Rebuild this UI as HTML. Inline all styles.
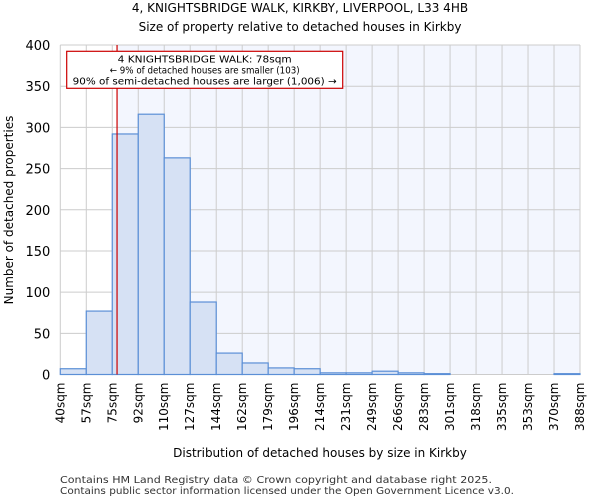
<!DOCTYPE html>
<html><head><meta charset="utf-8"><style>
body{margin:0;background:#fff;font-family:"DejaVu Sans","Liberation Sans",sans-serif}
</style></head><body>
<svg id="c" width="600" height="500" xmlns="http://www.w3.org/2000/svg" font-family="DejaVu Sans, Liberation Sans, sans-serif">
<text x="300" y="12" text-anchor="middle" font-size="12">4, KNIGHTSBRIDGE WALK, KIRKBY, LIVERPOOL, L33 4HB</text>
<text x="300" y="31" text-anchor="middle" font-size="12">Size of property relative to detached houses in Kirkby</text>
<g id="plot"></g>
<text x="320" y="457" text-anchor="middle" font-size="12">Distribution of detached houses by size in Kirkby</text>
<text transform="translate(13,210) rotate(-90)" text-anchor="middle" font-size="12">Number of detached properties</text>
<text x="60" y="483" font-size="10" fill="#333" textLength="432" lengthAdjust="spacingAndGlyphs">Contains HM Land Registry data © Crown copyright and database right 2025.</text>
<text x="60" y="494" font-size="10" fill="#333" textLength="454" lengthAdjust="spacingAndGlyphs">Contains public sector information licensed under the Open Government Licence v3.0.</text>
</svg>
<script>
const tickLabels=["40sqm","57sqm","75sqm","92sqm","110sqm","127sqm","144sqm","162sqm","179sqm","196sqm","214sqm","231sqm","249sqm","266sqm","283sqm","301sqm","318sqm","335sqm","353sqm","370sqm","388sqm"];
const counts=[7,77,292,316,263,88,26,14,8,7,2,2,4,2,1,0,0,0,0,1];
const yTicks=[0,50,100,150,200,250,300,350,400];
const propertySize=78;
const binStart=40, binWidth=17.4;
const X0=60.3,X1=580,Y0=374.5,Y1=45;
const nb=counts.length;
const xb=i=>X0+(X1-X0)*i/nb;
const xv=v=>X0+(v-binStart)/binWidth*(X1-X0)/nb;
const y=v=>Y0-(Y0-Y1)*v/400;
const NS="http://www.w3.org/2000/svg";
const g=document.getElementById("plot");
function mk(t,a){const e=document.createElementNS(NS,t);for(const k in a)e.setAttribute(k,a[k]);g.appendChild(e);return e;}
const px=xv(propertySize);
let e=mk("rect",{x:px,y:Y1,width:X1-px,height:Y0-Y1,fill:"#f3f6fe"});


yTicks.forEach(t=>{
 let l=mk("line",{x1:X0,x2:X1,y1:y(t),y2:y(t),stroke:"#ccc","stroke-width":1});
 
 
 let tx=mk("text",{x:X0-10,y:y(t)+5,"text-anchor":"end","font-size":13});
 tx.textContent=t;
 
 
});
tickLabels.forEach((s,i)=>{
 let l=mk("line",{x1:xb(i),x2:xb(i),y1:Y1,y2:Y0,stroke:"#ccc","stroke-width":1});
 
 
 let tx=mk("text",{transform:`translate(${xb(i)+4},${Y0+8}) rotate(-90)`,"text-anchor":"end","font-size":12});
 tx.textContent=s;
 
 
});
counts.forEach((c,i)=>{
 if(c<=0)return;
 let r=mk("rect",{x:xb(i),y:y(c),width:xb(i+1)-xb(i),height:Y0-y(c),fill:"#d6e1f4",stroke:"#5b8fd6","stroke-width":1.2});
 
 
});
e=mk("line",{x1:px,x2:px,y1:Y1,y2:Y0,stroke:"#c00","stroke-width":1.2});


e=mk("rect",{x:66.7,y:51.3,width:276,height:37,fill:"#fff",stroke:"#c00","stroke-width":1.2});


const annW=[174,190,264];
["4 KNIGHTSBRIDGE WALK: 78sqm","← 9% of detached houses are smaller (103)","90% of semi-detached houses are larger (1,006) →"].forEach((s,i)=>{
 let t=mk("text",{x:204.7,y:62.5+i*11,"text-anchor":"middle","font-size":10,textLength:annW[i],lengthAdjust:"spacingAndGlyphs"});
 t.textContent=s;
 
 
});
</script>
</body></html>
